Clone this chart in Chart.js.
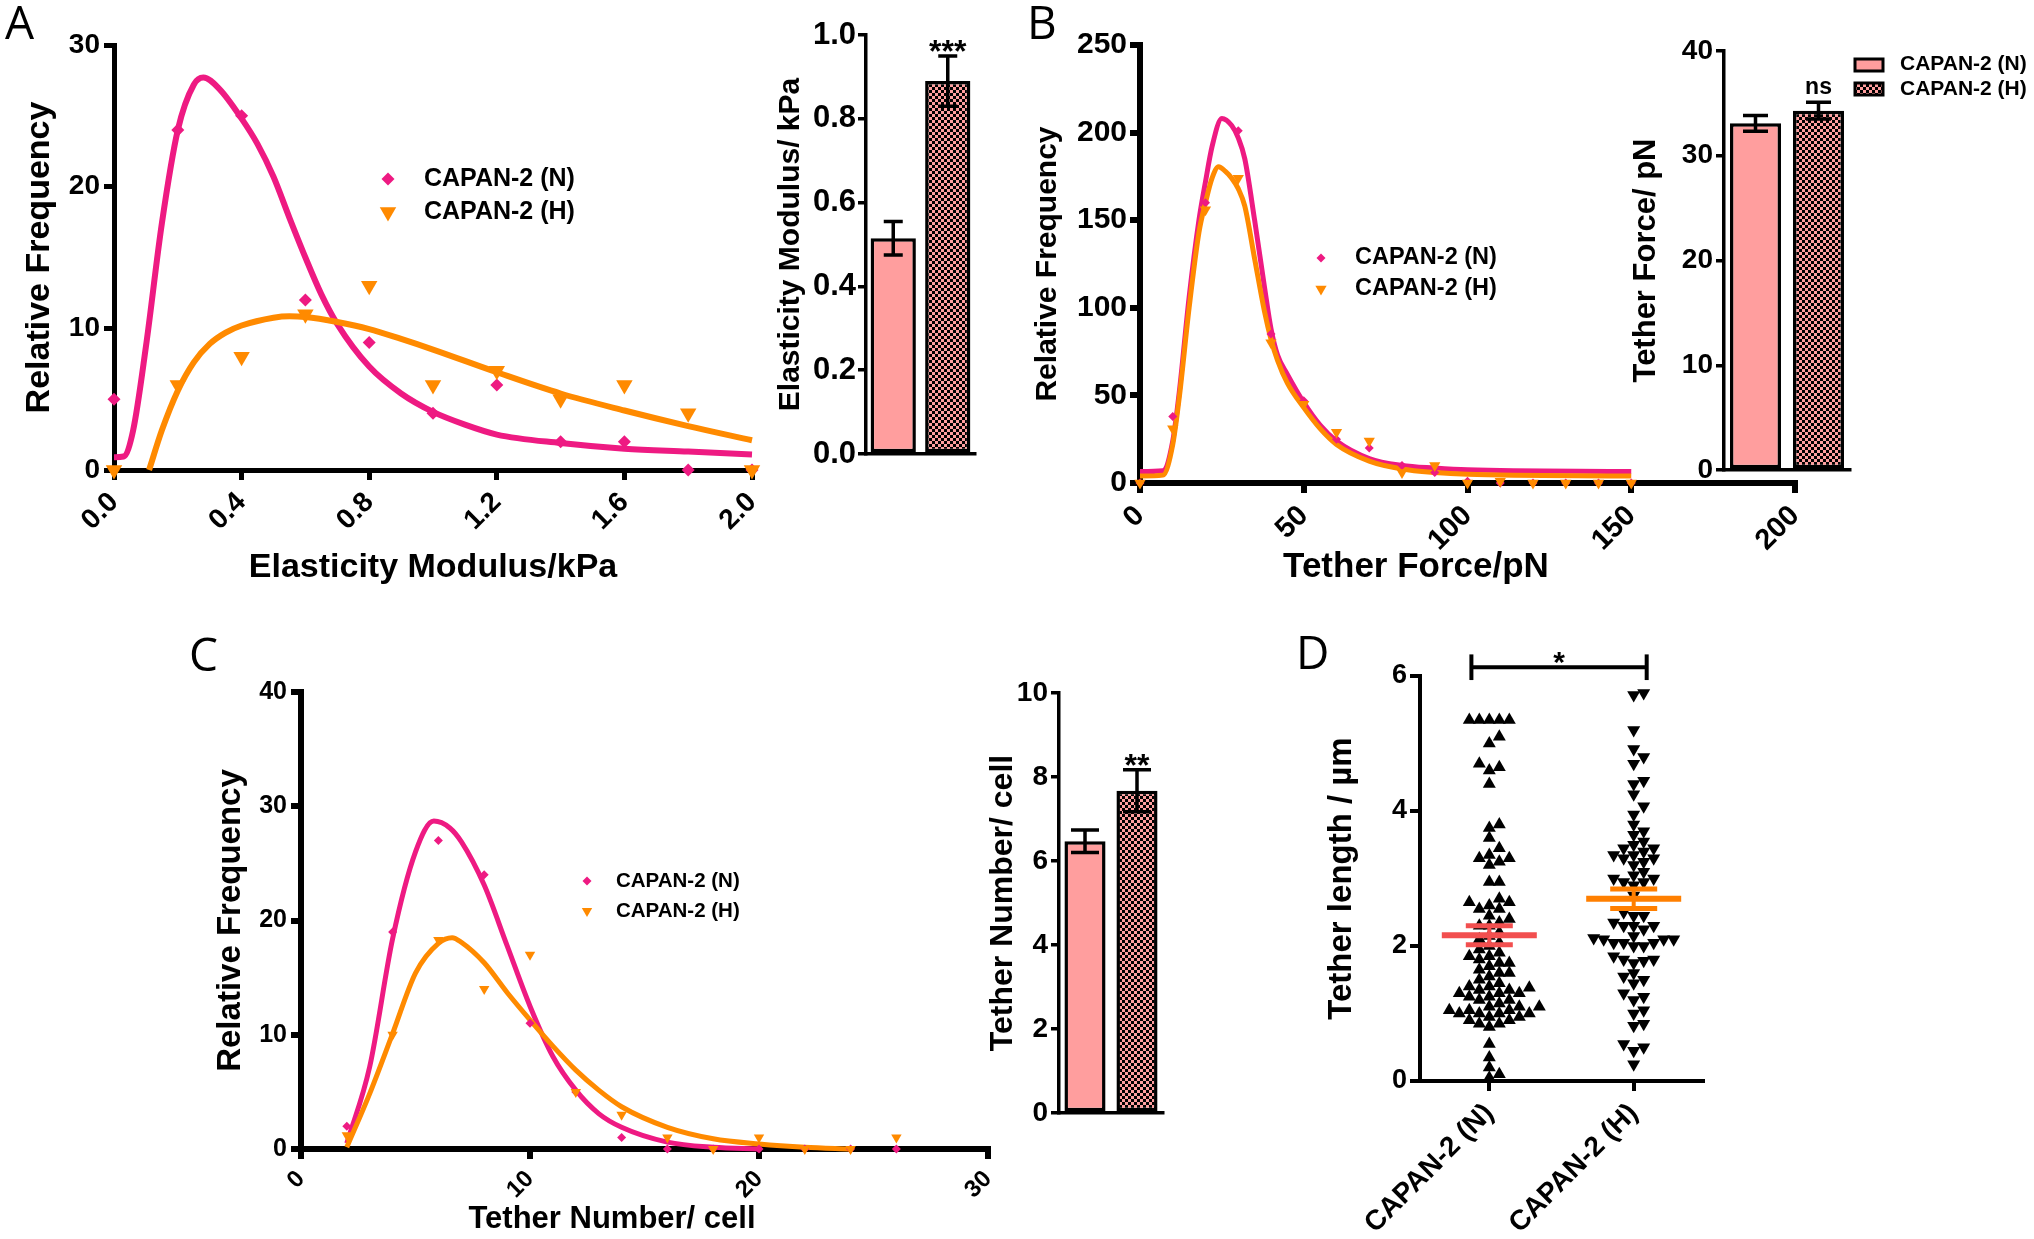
<!DOCTYPE html>
<html>
<head>
<meta charset="utf-8">
<title>CAPAN-2 cell mechanics</title>
<script src="https://cdn.jsdelivr.net/npm/chart.js@4.4.1/dist/chart.umd.min.js"></script>
<style>
  html, body { margin: 0; padding: 0; background: #fff; }
  #fig { position: relative; width: 2034px; height: 1239px; overflow: hidden; background: #fff; }
  #fig canvas { position: absolute; }
  .tag { position: absolute; font: 400 46px 'Open Sans', sans-serif; line-height: 46px; color: #000; }
</style>
</head>
<body>
<div id="fig">
  <canvas id="aFit"></canvas>
  <canvas id="aBar"></canvas>
  <canvas id="bFit"></canvas>
  <canvas id="bBar"></canvas>
  <canvas id="cFit"></canvas>
  <canvas id="cBar"></canvas>
  <canvas id="dDot"></canvas>
  <div class="tag" style="left:5px;top:-2px">A</div>
  <div class="tag" style="left:1027px;top:-2px">B</div>
  <div class="tag" style="left:189px;top:630px">C</div>
  <div class="tag" style="left:1296px;top:628px">D</div>
</div>
<script>
const groups = ['CAPAN-2 (N)', 'CAPAN-2 (H)'];

// A: elasticity modulus histogram (kPa) + fitted curves + mean bars
const aBins = [0, 0.2, 0.4, 0.6, 0.8, 1.0, 1.2, 1.4, 1.6, 1.8, 2.0];
const aFreqN = [5, 24, 25, 12, 9, 4, 6, 2, 2, 0, 0];
const aFreqH = [0, 6, 8, 11, 13, 6, 7, 5, 6, 4, 0];
const aFitNx = [0, 0.03, 0.06, 0.1, 0.15, 0.2, 0.25, 0.28, 0.33, 0.4, 0.45, 0.5, 0.55, 0.6, 0.65, 0.7, 0.8, 0.9, 1.0, 1.1, 1.2, 1.4, 1.6, 1.8, 2.0];
const aFitN = [0.9, 0.95, 2.8, 8.7, 17.4, 24, 27.2, 27.7, 26.9, 24.8, 23, 20.7, 17.8, 15, 12.4, 10.3, 7.3, 5.4, 4.1, 3.2, 2.5, 1.9, 1.5, 1.3, 1.1];
const aFitHx = [0.11, 0.15, 0.2, 0.25, 0.3, 0.35, 0.4, 0.5, 0.55, 0.6, 0.7, 0.8, 0.9, 1.0, 1.2, 1.4, 1.6, 1.8, 2.0];
const aFitH = [0, 2.8, 5.6, 7.6, 8.9, 9.7, 10.2, 10.75, 10.85, 10.8, 10.45, 9.95, 9.25, 8.5, 6.9, 5.4, 4.2, 3.1, 2.1];
const aBar = [0.515, 0.89];
const aSem = [0.04, 0.06];

// B: tether force (pN)
const bBins = [0, 10, 20, 30, 40, 50, 60, 70, 80, 90, 100, 110, 120, 130, 140, 150];
const bFreqN = [0, 38, 160, 201, 85, 47, 25, 20, 10, 6, 1, 0, 0, 0, 0, 0];
const bFreqH = [0, 31, 156, 174, 80, 45, 29, 24, 6, 10, 0, 1, 0, 0, 0, 0];
const bFitNx = [0, 7, 10, 12, 15, 18, 20, 22, 25, 28, 30, 32, 35, 38, 40, 42, 45, 50, 55, 60, 70, 80, 90, 100, 150];
const bFitN = [6.5, 7, 24, 52, 106, 150, 172, 192, 208, 204, 197, 185, 150, 112, 88, 73, 62, 46, 33, 24, 14, 10, 8.5, 7.5, 6.5];
const bFitHx = [0, 7, 10, 12, 15, 18, 20, 22, 24, 26, 28, 30, 32, 35, 38, 40, 42, 45, 50, 55, 60, 70, 80, 90, 100, 150];
const bFitH = [4, 4.5, 22, 49, 100, 143, 160, 174, 180.5, 178, 174, 168, 158, 128, 98, 82, 70, 57, 43, 31, 22, 12.5, 8, 6, 5, 4];
const bBar = [33.1, 34.3];
const bSem = [0.75, 0.8];

// C: tethers per cell
const cBins = [2, 4, 6, 8, 10, 12, 14, 16, 18, 20, 22, 24, 26];
const cFreqN = [2, 19, 27, 24, 11, 5, 1, 0, 0, 0, 0, 0, 0];
const cFreqH = [1.2, 10, 18.3, 14, 17, 5, 3, 1, 0, 1, 0, 0, 1];
const cFitNx = [2, 3, 4, 5, 5.8, 6.5, 7, 8, 9, 10, 11, 12, 13, 14, 16, 18, 20];
const cFitN = [0.5, 7.2, 18.4, 26, 28.7, 28.1, 26.9, 23.1, 17.8, 12.5, 8.1, 5.15, 3.1, 1.9, 0.6, 0.15, 0];
const cFitHx = [2, 3, 4, 5, 6, 6.6, 7, 8, 9, 10, 11, 12, 13, 14, 16, 18, 20, 22, 24];
const cFitH = [0.15, 4.85, 10.1, 15.4, 18, 18.5, 18.1, 16.3, 13.7, 11.3, 9, 6.9, 5.15, 3.7, 1.9, 0.9, 0.44, 0.15, 0];
const cBar = [6.47, 7.67];
const cSem = [0.27, 0.5];

// D: tether length (µm), one value per tether
const dLenN = [5.35, 5.35, 5.35, 5.35, 5.35, 5.1, 5.0, 4.7, 4.65, 4.6, 4.4, 3.8, 3.75, 3.6,
  3.45, 3.35, 3.3, 3.3, 3.25, 3.2, 2.95, 2.95, 2.7, 2.65, 2.65, 2.6, 2.55, 2.55,
  2.45, 2.4, 2.35, 2.3, 2.3, 2.2, 2.15, 2.1, 2.05, 2.0, 1.95, 1.9, 1.85, 1.85, 1.8, 1.75, 1.75,
  1.7, 1.65, 1.6, 1.6, 1.55, 1.5, 1.45, 1.4, 1.4, 1.38, 1.35, 1.35, 1.3, 1.3, 1.3, 1.25, 1.25,
  1.2, 1.2, 1.15, 1.1, 1.1, 1.1, 1.05, 1.05, 1.05, 1.0, 1.0, 1.0, 1.0, 0.95, 0.95,
  0.9, 0.9, 0.85, 0.85, 0.8, 0.55, 0.35, 0.2, 0.1, 0.05];
const dLenH = [5.75, 5.72, 5.2, 4.92, 4.8, 4.7, 4.45, 4.4, 4.25, 4.07, 3.95, 3.8, 3.7, 3.65,
  3.55, 3.5, 3.45, 3.45, 3.4, 3.35, 3.35, 3.3, 3.3, 3.25, 3.2, 3.1, 3.05, 3.0, 3.0, 2.95, 2.95, 2.9,
  2.75, 2.5, 2.45, 2.45, 2.35, 2.3, 2.3, 2.3, 2.25, 2.15, 2.12, 2.1, 2.1, 2.1, 2.05, 2.05, 2.05, 2.0, 2.0,
  1.85, 1.8, 1.8, 1.78, 1.75, 1.6, 1.55, 1.5, 1.45, 1.3, 1.25, 1.2, 1.05, 1.0, 0.85, 0.82,
  0.55, 0.5, 0.45, 0.25];
const dMean = [2.16, 2.70];
const dSem = [0.14, 0.145];

const PINK = '#ee1a82';
const ORANGE = '#ff8a00';
const SALMON = '#ff9e9e';
const FONT = "'Liberation Sans', Arial, Helvetica, sans-serif";

Chart.defaults.color = '#000';
Chart.defaults.font.family = FONT;

// canvas placed on the page, plot area pinned to given page pixels
function frame(id, box, plot) {
  const el = document.getElementById(id);
  el.width = box.r - box.l;
  el.height = box.b - box.t;
  el.style.left = box.l + 'px';
  el.style.top = box.t + 'px';
  return {
    el,
    origin: [box.l, box.t],
    padding: { left: 0, top: plot.t - box.t, right: box.r - plot.r, bottom: 0 },
    yFit: s => { s.width = plot.l - box.l; },
    xFit: s => { s.height = box.b - plot.b; }
  };
}

function axis(o) {
  return {
    type: o.type || 'linear',
    min: o.min, max: o.max, offset: !!o.offset,
    afterFit: o.fit,
    afterBuildTicks: o.at ? s => { s.ticks = o.at.map(value => ({ value })); } : undefined,
    ticks: {
      display: o.font > 0, stepSize: o.step, autoSkip: false,
      minRotation: o.rot || 0, maxRotation: o.rot || 0,
      padding: o.pad ?? 6, color: '#000',
      font: { family: FONT, size: o.font || 12, weight: 'bold' },
      callback: o.fmt || (v => v)
    },
    grid: { display: o.tick !== 0, drawOnChartArea: false, tickLength: o.tick ?? 10,
            lineWidth: o.width, tickWidth: o.width, color: '#000', tickColor: '#000' },
    border: { display: true, width: o.width, color: '#000' },
    title: { display: !!o.title, text: o.title || '', color: '#000', padding: 0,
             font: { family: FONT, size: o.titleSize || 12, weight: 'bold' } }
  };
}

function options(f, scales, notes, extra) {
  return {
    responsive: false, animation: false, events: [],
    layout: { padding: f.padding },
    scales,
    plugins: Object.assign({
      legend: { display: false }, tooltip: { enabled: false },
      notes: { origin: f.origin, items: notes || [] }
    }, extra)
  };
}

function curve(xs, ys, color, width, order) {
  return { data: xs.map((x, i) => ({ x, y: ys[i] })), showLine: true, borderColor: color, borderWidth: width,
           pointRadius: 0, cubicInterpolationMode: 'monotone', clip: false, order };
}
function marks(xs, ys, color, style, radius, rotation, order) {
  return { data: xs.map((x, i) => ({ x, y: ys[i] })), showLine: false, pointStyle: style, pointRadius: radius,
           pointRotation: rotation, backgroundColor: color, borderWidth: 0, clip: false, order };
}

function checker() {
  const t = document.createElement('canvas');
  t.width = t.height = 6;
  const g = t.getContext('2d');
  g.fillStyle = SALMON; g.fillRect(0, 0, 6, 6);
  g.fillStyle = '#000'; g.fillRect(0, 0, 3, 3); g.fillRect(3, 3, 3, 3);
  return g.createPattern(t, 'repeat');
}

function drawMark(ctx, m) {
  ctx.beginPath();
  if (m.mark === 'diamond') {
    ctx.moveTo(m.x - m.r, m.y); ctx.lineTo(m.x, m.y - m.r); ctx.lineTo(m.x + m.r, m.y); ctx.lineTo(m.x, m.y + m.r);
  } else if (m.mark === 'down') {
    ctx.moveTo(m.x - 0.866 * m.r, m.y - m.r / 2); ctx.lineTo(m.x + 0.866 * m.r, m.y - m.r / 2); ctx.lineTo(m.x, m.y + m.r);
  } else {
    ctx.rect(m.x, m.y, m.w, m.h);
  }
  ctx.closePath();
  ctx.fillStyle = m.color;
  ctx.fill();
  if (m.stroke) { ctx.lineWidth = m.stroke; ctx.strokeStyle = '#000'; ctx.stroke(); }
}

// free text and legend marks, given in page pixels
const notes = {
  id: 'notes',
  afterDraw(chart, args, o) {
    if (!o.items || !o.items.length) return;
    const ctx = chart.ctx;
    ctx.save();
    ctx.translate(-o.origin[0], -o.origin[1]);
    o.items.forEach(it => {
      if (it.mark) return drawMark(ctx, it);
      ctx.fillStyle = '#000';
      ctx.font = `bold ${it.size}px ${FONT}`;
      ctx.textAlign = it.align || 'left';
      ctx.textBaseline = 'middle';
      ctx.fillText(it.text, it.x, it.y);
    });
    ctx.restore();
  }
};

const errorBars = {
  id: 'errorBars',
  afterDatasetsDraw(chart, args, o) {
    if (!o.sem) return;
    const { ctx, scales: { y } } = chart;
    const vals = chart.data.datasets[0].data;
    ctx.save();
    ctx.strokeStyle = '#000';
    ctx.lineWidth = o.width;
    chart.getDatasetMeta(0).data.forEach((bar, i) => {
      const top = y.getPixelForValue(vals[i] + o.sem[i]);
      const bot = y.getPixelForValue(vals[i] - o.sem[i]);
      ctx.beginPath();
      ctx.moveTo(bar.x, top); ctx.lineTo(bar.x, bot);
      ctx.moveTo(bar.x - o.cap, top); ctx.lineTo(bar.x + o.cap, top);
      ctx.moveTo(bar.x - o.cap, bot); ctx.lineTo(bar.x + o.cap, bot);
      ctx.stroke();
      if (o.marks[i]) {
        ctx.fillStyle = '#000';
        ctx.font = `bold ${o.size}px ${FONT}`;
        ctx.textAlign = 'center';
        ctx.textBaseline = 'alphabetic';
        ctx.fillText(o.marks[i], bar.x, top + o.gap);
      }
    });
    ctx.restore();
  }
};

const meanSem = {
  id: 'meanSem',
  afterDatasetsDraw(chart, args, o) {
    if (!o.mean) return;
    const { ctx, scales: { x, y } } = chart;
    const seg = (x1, y1, x2, y2) => { ctx.beginPath(); ctx.moveTo(x1, y1); ctx.lineTo(x2, y2); ctx.stroke(); };
    ctx.save();
    o.mean.forEach((m, i) => {
      const cx = x.getPixelForValue(i);
      const my = y.getPixelForValue(m);
      const hi = y.getPixelForValue(m + o.sem[i]);
      const lo = y.getPixelForValue(m - o.sem[i]);
      ctx.strokeStyle = o.colors[i];
      ctx.lineWidth = 4; seg(cx, hi, cx, lo);
      ctx.lineWidth = 5; seg(cx - o.cap, hi, cx + o.cap, hi); seg(cx - o.cap, lo, cx + o.cap, lo);
      ctx.lineWidth = 6; seg(cx - o.half, my, cx + o.half, my);
    });
    const b = o.bracket;
    const x1 = x.getPixelForValue(b.from), x2 = x.getPixelForValue(b.to);
    const by = y.getPixelForValue(b.at), t1 = y.getPixelForValue(b.at + b.tick), t2 = y.getPixelForValue(b.at - b.tick);
    ctx.strokeStyle = '#000';
    ctx.lineWidth = 4;
    seg(x1, by, x2, by); seg(x1, t1, x1, t2); seg(x2, t1, x2, t2);
    ctx.fillStyle = '#000';
    ctx.font = `bold 30px ${FONT}`;
    ctx.textAlign = 'center';
    ctx.textBaseline = 'alphabetic';
    ctx.fillText(b.text, (x1 + x2) / 2, by + 5);
    ctx.restore();
  }
};

Chart.register(notes, errorBars, meanSem);

function bars(f, values, sems, y, pct, bar) {
  return new Chart(f.el, {
    type: 'bar',
    data: { labels: groups, datasets: [{ data: values, backgroundColor: [SALMON, checker()], borderColor: '#000',
      borderWidth: 3.5, borderSkipped: false, barPercentage: pct, categoryPercentage: 1 }] },
    options: options(f, {
      x: axis({ type: 'category', offset: true, tick: 0, font: 0, width: 3.5, fit: f.xFit }),
      y
    }, bar.notes, { errorBars: Object.assign({ sem: sems, width: 3.5 }, bar) })
  });
}

// ---- A ----
const fA = frame('aFit', { l: 19, t: 0, r: 790, b: 588 }, { l: 114, t: 45, r: 752, b: 470 });
new Chart(fA.el, {
  type: 'scatter',
  data: { datasets: [
    curve(aFitNx, aFitN, PINK, 6, 3),
    curve(aFitHx, aFitH, ORANGE, 6, 2),
    marks(aBins, aFreqN, PINK, 'rectRot', 6.5, 0, 1),
    marks(aBins, aFreqH, ORANGE, 'triangle', 9.5, 180, 0)
  ] },
  options: options(fA, {
    x: axis({ min: 0, max: 2, step: 0.4, font: 28, rot: 45, width: 5, fit: fA.xFit, fmt: v => v.toFixed(1),
              title: 'Elasticity Modulus/kPa', titleSize: 34 }),
    y: axis({ min: 0, max: 30, step: 10, font: 28, width: 5, pad: 4, fit: fA.yFit, title: 'Relative Frequency', titleSize: 34 })
  }, [
    { mark: 'diamond', x: 388, y: 179, r: 6.5, color: PINK },
    { text: groups[0], x: 424, y: 179, size: 25 },
    { mark: 'down', x: 388, y: 212, r: 9.5, color: ORANGE },
    { text: groups[1], x: 424, y: 212, size: 25 }
  ])
});

const fAb = frame('aBar', { l: 773, t: 0, r: 1000, b: 480 }, { l: 866, t: 35, r: 975, b: 454 });
bars(fAb, aBar, aSem,
  axis({ min: 0, max: 1, step: 0.2, font: 31, width: 3.5, tick: 8, pad: 2, fit: fAb.yFit, fmt: v => v.toFixed(1),
         title: 'Elasticity Modulus/ kPa', titleSize: 30 }),
  0.83, { cap: 9.5, marks: ['', '***'], size: 32, gap: 6.5 });

// ---- B ----
const fB = frame('bFit', { l: 1030, t: 0, r: 1830, b: 600 }, { l: 1140, t: 45, r: 1795, b: 483 });
new Chart(fB.el, {
  type: 'scatter',
  data: { datasets: [
    curve(bFitNx, bFitN, PINK, 5, 3),
    curve(bFitHx, bFitH, ORANGE, 5, 2),
    marks(bBins, bFreqN, PINK, 'rectRot', 4.5, 0, 1),
    marks(bBins, bFreqH, ORANGE, 'triangle', 6.5, 180, 0)
  ] },
  options: options(fB, {
    x: axis({ min: 0, max: 200, step: 50, font: 29, rot: 45, width: 6, fit: fB.xFit }),
    y: axis({ min: 0, max: 250, step: 50, font: 30, width: 6, pad: 3, fit: fB.yFit, title: 'Relative Frequency', titleSize: 30 })
  }, [
    { mark: 'diamond', x: 1321, y: 258, r: 4.5, color: PINK },
    { text: groups[0], x: 1355, y: 258, size: 23.5 },
    { mark: 'down', x: 1321, y: 289, r: 6.5, color: ORANGE },
    { text: groups[1], x: 1355, y: 289, size: 23.5 },
    { text: 'Tether Force/pN', x: 1416, y: 567, size: 35, align: 'center' }
  ])
});

const fBb = frame('bBar', { l: 1628, t: 0, r: 2034, b: 490 }, { l: 1724, t: 51, r: 1850, b: 470 });
bars(fBb, bBar, bSem,
  axis({ min: 0, max: 40, step: 10, font: 28, width: 3.5, tick: 8, pad: 3, fit: fBb.yFit, title: 'Tether Force/ pN', titleSize: 31 }),
  0.81, { cap: 12.5, marks: ['', 'ns'], size: 23, gap: -8, notes: [
    { mark: 'box', x: 1855, y: 59, w: 28, h: 12, color: SALMON, stroke: 3 },
    { text: groups[0], x: 1900, y: 64, size: 21 },
    { mark: 'box', x: 1855, y: 83, w: 28, h: 12, color: checker(), stroke: 3 },
    { text: groups[1], x: 1900, y: 89, size: 21 }
  ] });

// ---- C ----
const fC = frame('cFit', { l: 211, t: 660, r: 1025, b: 1239 }, { l: 301, t: 692, r: 988, b: 1149 });
new Chart(fC.el, {
  type: 'scatter',
  data: { datasets: [
    curve(cFitNx, cFitN, PINK, 5, 3),
    curve(cFitHx, cFitH, ORANGE, 5, 2),
    marks(cBins, cFreqN, PINK, 'rectRot', 4.5, 0, 1),
    marks(cBins, cFreqH, ORANGE, 'triangle', 6, 180, 0)
  ] },
  options: options(fC, {
    x: axis({ min: 0, max: 30, step: 10, font: 24, rot: 45, width: 6, fit: fC.xFit }),
    y: axis({ min: 0, max: 40, step: 10, font: 25, width: 6, pad: 4, fit: fC.yFit, title: 'Relative Frequency', titleSize: 33 })
  }, [
    { mark: 'diamond', x: 587, y: 881, r: 4.5, color: PINK },
    { text: groups[0], x: 616, y: 881, size: 20.5 },
    { mark: 'down', x: 587, y: 911, r: 6, color: ORANGE },
    { text: groups[1], x: 616, y: 911, size: 20.5 },
    { text: 'Tether Number/ cell', x: 612, y: 1219, size: 31, align: 'center' }
  ])
});

const fCb = frame('cBar', { l: 984, t: 640, r: 1185, b: 1135 }, { l: 1059, t: 693, r: 1163, b: 1113 });
bars(fCb, cBar, cSem,
  axis({ min: 0, max: 10, step: 2, font: 28, width: 3.5, tick: 8, pad: 3, fit: fCb.yFit, title: 'Tether Number/ cell', titleSize: 32 }),
  0.79, { cap: 14, marks: ['', '**'], size: 32, gap: 6.5 });

// ---- D ----
const fD = frame('dDot', { l: 1322, t: 630, r: 1760, b: 1239 }, { l: 1420, t: 676, r: 1703, b: 1081 });
const dChart = new Chart(fD.el, {
  type: 'scatter',
  data: { datasets: [
    { data: dLenN.map(y => ({ x: 0, y })), pointStyle: 'triangle', pointRadius: 7.5, pointRotation: 0,
      backgroundColor: '#000', borderWidth: 0, clip: false },
    { data: dLenH.map(y => ({ x: 1, y })), pointStyle: 'triangle', pointRadius: 7.5, pointRotation: 180,
      backgroundColor: '#000', borderWidth: 0, clip: false }
  ] },
  options: options(fD, {
    x: axis({ min: -0.48, max: 1.48, at: [0, 1], font: 28, rot: 45, width: 4, fit: fD.xFit, fmt: v => groups[v] }),
    y: axis({ min: 0, max: 6, step: 2, font: 27, width: 4, pad: 3, fit: fD.yFit, title: 'Tether length / µm', titleSize: 33 })
  }, [], {
    meanSem: { mean: dMean, sem: dSem, colors: ['#f24f4f', '#ff7f00'], half: 47.5, cap: 23.5,
               bracket: { from: -0.124, to: 1.09, at: 6.13, tick: 0.19, text: '*' } }
  })
});

// spread each column sideways so the symbols do not sit on top of each other
function swarm(values, center, xs, ys, w, h) {
  const cx = xs.getPixelForValue(center);
  const placed = [];
  const out = [];
  values.map((v, i) => [v, i]).sort((a, b) => a[0] - b[0]).forEach(([v, i]) => {
    const py = ys.getPixelForValue(v);
    let k = 0, px;
    do {
      px = cx + (k % 2 ? 1 : -1) * Math.ceil(k / 2) * w / 2;
      k++;
    } while (placed.some(p => Math.abs(p[0] - px) < w && Math.abs(p[1] - py) < h));
    placed.push([px, py]);
    out[i] = { x: xs.getValueForPixel(px), y: v };
  });
  return out;
}
dChart.data.datasets[0].data = swarm(dLenN, 0, dChart.scales.x, dChart.scales.y, 10, 10);
dChart.data.datasets[1].data = swarm(dLenH, 1, dChart.scales.x, dChart.scales.y, 10, 10);
dChart.update('none');
</script>
</body>
</html>
